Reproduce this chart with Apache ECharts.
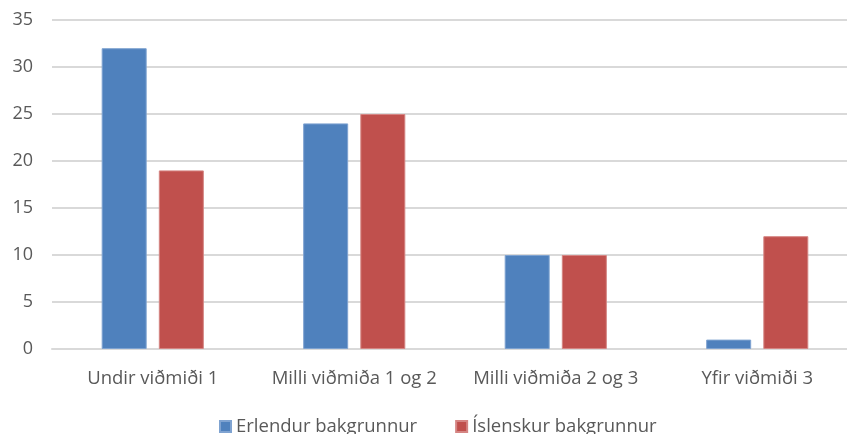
<!DOCTYPE html>
<html><head><meta charset="utf-8">
<script src="https://cdn.jsdelivr.net/npm/echarts@6/dist/echarts.min.js"></script>
<style>html,body{margin:0;padding:0;background:#fff;overflow:hidden;width:847px;height:434px}#c{width:860px;height:434px}</style>
</head><body><div id="c"></div>
<script>
const categories = ['Undir viðmiði 1', 'Milli viðmiða 1 og 2', 'Milli viðmiða 2 og 3', 'Yfir viðmiði 3'];
const erlendur = [32, 24, 10, 1];
const islenskur = [19, 25, 10, 12];
const seriesNames = ['Erlendur bakgrunnur', 'Íslenskur bakgrunnur'];
const FONT = 'Open Sans';
const chart = echarts.init(document.getElementById('c'), null, {renderer: 'canvas'});
chart.setOption({
  animation: false,
  textStyle: {fontFamily: FONT},
  grid: {left: 52, width: 806, top: 20, bottom: 85, containLabel: false},
  legend: {
    top: 412, left: 214, itemGap: 38, itemWidth: 11, itemHeight: 11, icon: 'rect',
    textStyle: {fontFamily: FONT, fontSize: 18.5, color: '#595959'},
    data: seriesNames
  },
  xAxis: {
    type: 'category', data: categories,
    axisLine: {show: true, lineStyle: {color: '#D9D9D9', width: 2}},
    axisTick: {show: false},
    axisLabel: {interval: 0, fontFamily: FONT, fontSize: 18.5, color: '#595959', margin: 20}
  },
  yAxis: {
    type: 'value', min: 0, max: 35, interval: 5,
    axisLine: {show: false}, axisTick: {show: false},
    splitLine: {lineStyle: {color: '#D9D9D9', width: 2}},
    axisLabel: {fontFamily: FONT, fontSize: 18, color: '#595959', margin: 19}
  },
  series: [
    {name: seriesNames[0], type: 'bar', data: erlendur, barWidth: 45, barGap: '27%',
     itemStyle: {color: '#4F81BD', borderColor: '#7FA3D1', borderWidth: 1}},
    {name: seriesNames[1], type: 'bar', data: islenskur, barWidth: 45, barGap: '27%',
     itemStyle: {color: '#C0504D', borderColor: '#D58583', borderWidth: 1}}
  ]
});
</script></body></html>
